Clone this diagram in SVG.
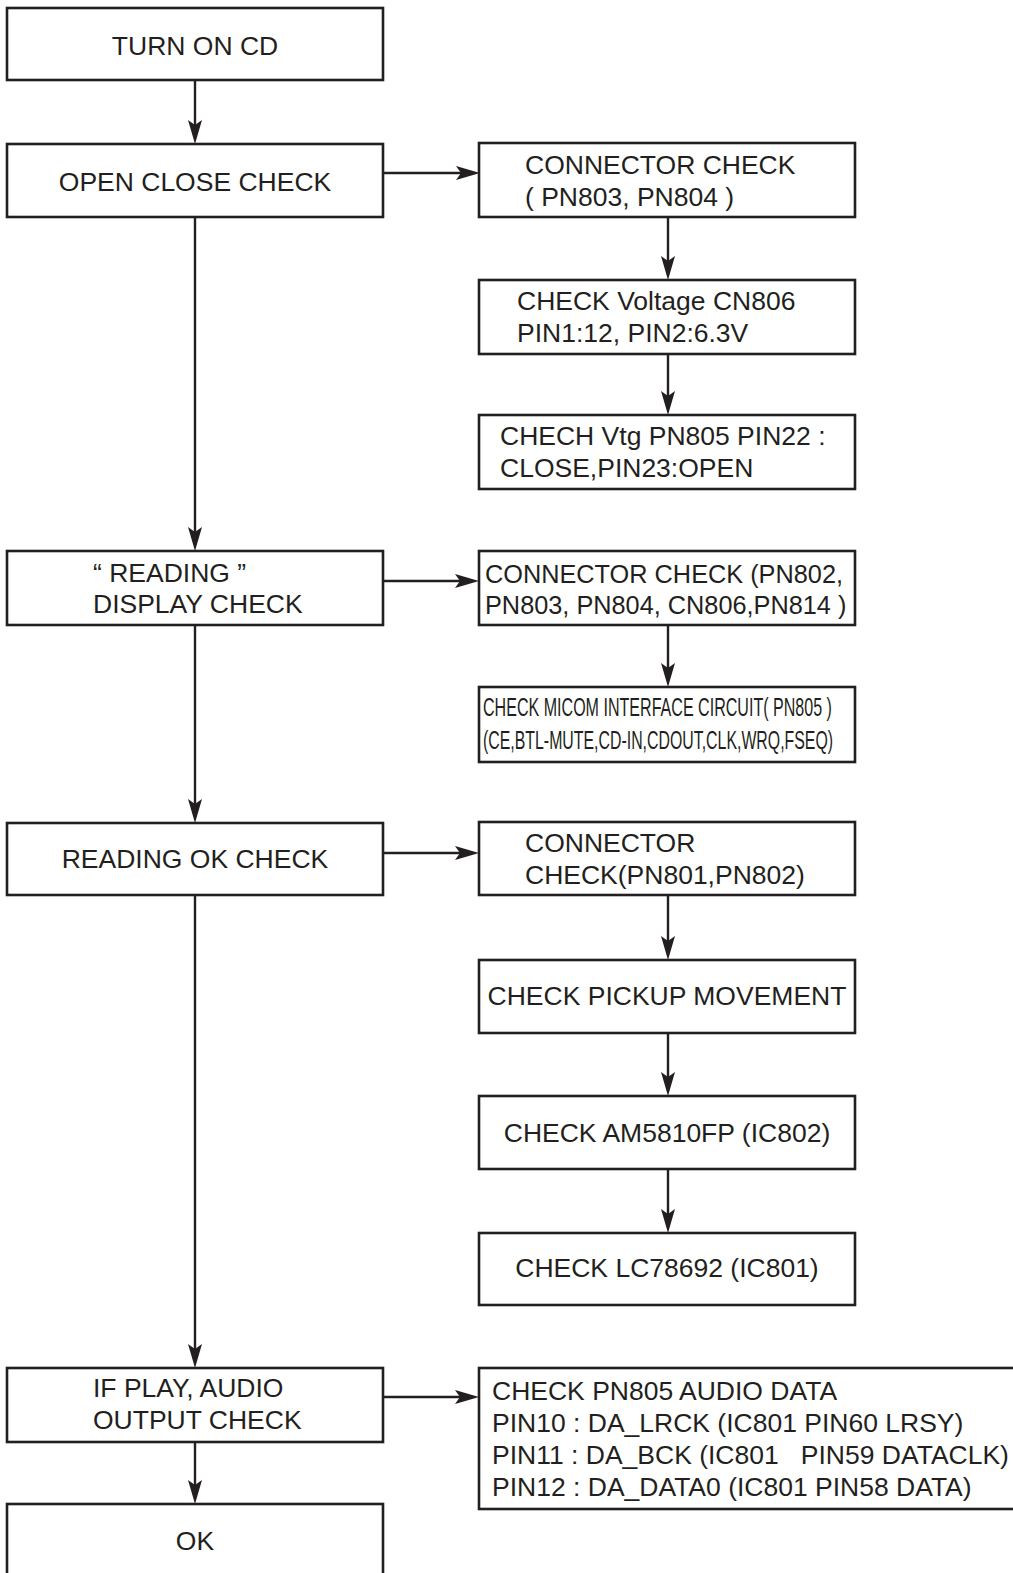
<svg xmlns="http://www.w3.org/2000/svg" width="1013" height="1573" viewBox="0 0 1013 1573">
<style>
  .box { fill: #ffffff; stroke: #231f20; stroke-width: 2.6; }
  .t { font-family: "Liberation Sans", Arial, sans-serif; font-size: 26.5px; fill: #231f20; }
  .c { text-anchor: middle; }
  .n { font-size: 25.3px; }
  .s { font-family: "Liberation Sans", Arial, sans-serif; font-size: 25px; fill: #231f20; }
  .ln { fill: none; stroke: #231f20; stroke-width: 2.4; marker-end: url(#ah); }
</style>
<defs>
  <marker id="ah" viewBox="-40 -10 45 20" refX="-16" refY="0" markerWidth="45" markerHeight="20" markerUnits="userSpaceOnUse" orient="auto">
    <path d="M0,0 L-24,-7 L-19,0 L-24,7 Z" fill="#231f20"/>
  </marker>
</defs>
<rect width="1013" height="1573" fill="#ffffff"/>

<g id="connectors">
  <path class="ln" d="M195,80 V128"/>
  <path class="ln" d="M195,217 V535"/>
  <path class="ln" d="M195,625 V807"/>
  <path class="ln" d="M195,895 V1352"/>
  <path class="ln" d="M195,1442 V1488"/>
  <path class="ln" d="M383,173 H464"/>
  <path class="ln" d="M383,581 H463"/>
  <path class="ln" d="M383,853 H463"/>
  <path class="ln" d="M383,1397 H463"/>
  <path class="ln" d="M668,217 V264"/>
  <path class="ln" d="M668,354 V399"/>
  <path class="ln" d="M668,625 V671"/>
  <path class="ln" d="M668,895 V944"/>
  <path class="ln" d="M668,1033 V1080"/>
  <path class="ln" d="M668,1169 V1217"/>
</g>

<g id="turn-on-cd">
  <rect class="box" x="7" y="8" width="376" height="72"/>
  <text class="t c" x="195" y="54.5">TURN ON CD</text>
</g>
<g id="open-close-check">
  <rect class="box" x="7" y="144" width="376" height="73"/>
  <text class="t c" x="195" y="190.5">OPEN CLOSE CHECK</text>
</g>
<g id="reading-display-check">
  <rect class="box" x="7" y="551" width="376" height="74"/>
  <text class="t" x="93" y="582">“ READING ”</text>
  <text class="t" x="93" y="613">DISPLAY CHECK</text>
</g>
<g id="reading-ok-check">
  <rect class="box" x="7" y="823" width="376" height="72"/>
  <text class="t c" x="195" y="868">READING OK CHECK</text>
</g>
<g id="audio-output-check">
  <rect class="box" x="7" y="1368" width="376" height="74"/>
  <text class="t" x="93" y="1397">IF PLAY, AUDIO</text>
  <text class="t" x="93" y="1429">OUTPUT CHECK</text>
</g>
<g id="ok">
  <rect class="box" x="7" y="1504" width="376" height="80"/>
  <text class="t c" x="195" y="1550">OK</text>
</g>

<g id="connector-check-1">
  <rect class="box" x="479" y="143" width="376" height="74"/>
  <text class="t" x="525" y="174">CONNECTOR CHECK</text>
  <text class="t" x="525" y="206">( PN803, PN804 )</text>
</g>
<g id="check-voltage">
  <rect class="box" x="479" y="280" width="376" height="74"/>
  <text class="t" x="517" y="310">CHECK Voltage CN806</text>
  <text class="t" x="517" y="342">PIN1:12, PIN2:6.3V</text>
</g>
<g id="check-vtg-pn805">
  <rect class="box" x="479" y="415" width="376" height="74"/>
  <text class="t" x="500" y="445">CHECH Vtg PN805 PIN22 :</text>
  <text class="t" x="500" y="477">CLOSE,PIN23:OPEN</text>
</g>
<g id="connector-check-2">
  <rect class="box" x="479" y="551" width="376" height="74"/>
  <text class="t n" x="485" y="583">CONNECTOR CHECK (PN802,</text>
  <text class="t n" x="485" y="614">PN803, PN804, CN806,PN814 )</text>
</g>
<g id="check-micom">
  <rect class="box" x="479" y="687" width="376" height="75"/>
  <text class="s" transform="translate(483,716) scale(0.643,1)" x="0" y="0">CHECK MICOM INTERFACE CIRCUIT( PN805 )</text>
  <text class="s" transform="translate(483,749) scale(0.635,1)" x="0" y="0">(CE,BTL-MUTE,CD-IN,CDOUT,CLK,WRQ,FSEQ)</text>
</g>
<g id="connector-check-3">
  <rect class="box" x="479" y="822" width="376" height="73"/>
  <text class="t" x="525" y="852">CONNECTOR</text>
  <text class="t" x="525" y="884">CHECK(PN801,PN802)</text>
</g>
<g id="check-pickup">
  <rect class="box" x="479" y="960" width="376" height="73"/>
  <text class="t c" x="667" y="1005">CHECK PICKUP MOVEMENT</text>
</g>
<g id="check-am5810fp">
  <rect class="box" x="479" y="1096" width="376" height="73"/>
  <text class="t c" x="667" y="1142">CHECK AM5810FP (IC802)</text>
</g>
<g id="check-lc78692">
  <rect class="box" x="479" y="1233" width="376" height="72"/>
  <text class="t c" x="667" y="1277">CHECK LC78692 (IC801)</text>
</g>
<g id="check-audio-data">
  <rect class="box" x="479" y="1368" width="560" height="141"/>
  <text class="t" x="492" y="1400">CHECK PN805 AUDIO DATA</text>
  <text class="t" x="492" y="1432">PIN10 : DA_LRCK (IC801 PIN60 LRSY)</text>
  <text class="t" x="492" y="1464" xml:space="preserve">PIN11 : DA_BCK (IC801   PIN59 DATACLK)</text>
  <text class="t" x="492" y="1496">PIN12 : DA_DATA0 (IC801 PIN58 DATA)</text>
</g>
</svg>
